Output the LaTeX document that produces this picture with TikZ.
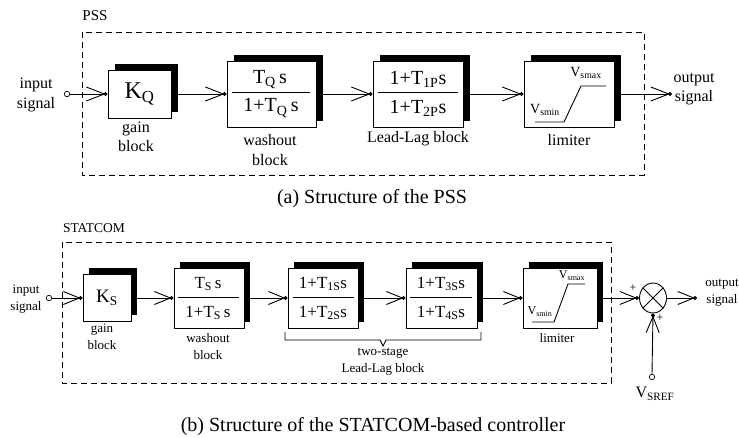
\documentclass[tikz,border=0pt]{standalone}
\usepackage{fontspec}
\setmainfont{Liberation Serif}
\usetikzlibrary{arrows.meta,shadows,shapes.geometric}
\begin{document}
\begin{tikzpicture}[x=1pt,y=-1pt,
  ln/.style={line width=0.9pt},
  arrA/.style={ln,-{Straight Barb[length=18pt,width=14pt,sep=-2pt]Circle[length=4pt]}},
  arrB/.style={ln,-{Straight Barb[length=16pt,width=13pt,sep=-2pt]Circle[length=4pt]}},
  blkA/.style={draw,fill=white,line width=0.9pt,inner sep=0pt,
     general shadow={fill=black,shadow xshift=7pt,shadow yshift=6pt}},
  blkB/.style={draw,fill=white,line width=0.9pt,inner sep=0pt,
     general shadow={fill=black,shadow xshift=6pt,shadow yshift=6pt}},
  circ/.style={draw,fill=white,circle,line width=0.7pt,inner sep=0pt,minimum size=5.5pt},
  dashframe/.style={line width=0.9pt,dash pattern=on 6pt off 4pt},
  t16/.style={font=\fontsize{16}{19.5}\selectfont,align=center,inner sep=0pt},
  t13/.style={font=\fontsize{13}{17}\selectfont,align=center,inner sep=0pt},
  f20/.style={font=\fontsize{20}{24}\selectfont,inner sep=0pt},
  f17/.style={font=\fontsize{17}{20}\selectfont,inner sep=0pt},
  captxt/.style={font=\fontsize{20}{24}\selectfont,inner sep=0pt},
]
\useasboundingbox (0,0) rectangle (739,438);

% ---------------- PSS ----------------
\node[font=\fontsize{15}{18}\selectfont,inner sep=0pt] (pssT) at (95,16) {PSS};
\draw[dashframe] (82,32) rectangle (644,175);

\node[t16] (inQl) at (36,95) {input\\signal};
\node[circ] (cinQ) at (67,94) {};

\node[blkA,minimum width=63pt,minimum height=48pt,font=\fontsize{24}{28}\selectfont] (gainQ) at (139.5,94) {K\textsubscript{Q}};
\node[t16] (gainQl) at (136,137) {gain\\block};

\node[blkA,minimum width=89pt,minimum height=66pt] (washQ) at (271.5,94) {};
\node[f20] (washQn) at (270,80) {T\textsubscript{Q}\,s};
\node[f20] (washQd) at (271,108) {1+T\textsubscript{Q}\,s};
\draw[ln] (232,92) -- (310,92);
\node[t16] (washQl) at (270,150) {washout\\block};

\node[blkA,minimum width=90pt,minimum height=66pt] (llQ) at (418,94) {};
\node[f20] (llQn) at (418,79) {1+T\textsubscript{1P}s};
\node[f20] (llQd) at (418,108) {1+T\textsubscript{2P}s};
\draw[ln] (378,92) -- (458,92);
\node[t16] (llQl) at (418,139) {Lead-Lag block};

\node[blkA,minimum width=90pt,minimum height=66pt] (limQ) at (569,94) {};
\draw[ln] (535,122) -- (564,122) -- (581,86) -- (606,86);
\node[font=\fontsize{14}{16}\selectfont,inner sep=0pt] (vmaxQ) at (586,73) {V\textsubscript{smax}};
\node[font=\fontsize{14}{16}\selectfont,inner sep=0pt] (vminQ) at (545,110) {V\textsubscript{smin}};
\node[t16] (limQl) at (569,140) {limiter};

\coordinate (outQ) at (672,94);
\node[t16] (outQl) at (694,89) {output\\signal};

\draw[arrA] (cinQ.east) -- (gainQ.west);
\draw[arrA] (gainQ.east) -- (washQ.west);
\draw[arrA] (washQ.east) -- (llQ.west);
\draw[arrA] (llQ.east) -- (limQ.west);
\draw[arrA] (limQ.east) -- (outQ);

\node[captxt] (capA) at (372,199) {(a) Structure of the PSS};

% ---------------- STATCOM ----------------
\node[font=\fontsize{13.5}{16}\selectfont,inner sep=0pt] (stT) at (94,228) {STATCOM};
\draw[dashframe] (62,242) rectangle (611,383);

\node[t13] (inSl) at (26,299) {input\\signal};
\node[circ] (cinS) at (49,298) {};

\node[blkB,minimum width=48pt,minimum height=47pt,font=\fontsize{19}{22}\selectfont] (gainS) at (107,298) {K\textsubscript{S}};
\node[t13] (gainSl) at (102,337) {gain\\block};

\node[blkB,minimum width=70pt,minimum height=60pt] (washS) at (209,298) {};
\node[f17] (washSn) at (208,284) {T\textsubscript{S}\,s};
\node[f17] (washSd) at (208,313) {1+T\textsubscript{S}\,s};
\draw[ln] (178,297) -- (239,297);
\node[t13] (washSl) at (208,347) {washout\\block};

\node[blkB,minimum width=70pt,minimum height=60pt] (ll1S) at (323,298) {};
\node[f17] (ll1Sn) at (323,284) {1+T\textsubscript{1S}s};
\node[f17] (ll1Sd) at (323,313) {1+T\textsubscript{2S}s};
\draw[ln] (293,297) -- (354,297);

\node[blkB,minimum width=71pt,minimum height=60pt] (ll2S) at (441.5,298) {};
\node[f17] (ll2Sn) at (441,284) {1+T\textsubscript{3S}s};
\node[f17] (ll2Sd) at (441,313) {1+T\textsubscript{4S}s};
\draw[ln] (410,297) -- (472,297);

\draw[ln] (285,332) -- (285,340) -- (380,340) -- (383,346) -- (386,340) -- (481,340) -- (481,332);
\node[t13] (llSl) at (383,362) {two-stage\\Lead-Lag block};

\node[blkB,minimum width=74pt,minimum height=60pt] (limS) at (560,298) {};
\draw[ln] (532,322) -- (554,322) -- (568,284) -- (585,284);
\node[font=\fontsize{12}{14}\selectfont,inner sep=0pt] (vmaxS) at (572,276) {V\textsubscript{smax}};
\node[font=\fontsize{12}{14}\selectfont,inner sep=0pt] (vminS) at (540,312) {V\textsubscript{smin}};
\node[t13] (limSl) at (557,338) {limiter};

\node[draw,ellipse,line width=0.9pt,minimum width=27pt,minimum height=30pt,inner sep=0pt] (sum) at (653,298) {};
\draw[ln] (sum.45) -- (sum.225);
\draw[ln] (sum.135) -- (sum.315);
\node[font=\fontsize{12}{14}\selectfont,inner sep=0pt] (plus1) at (633,288) {+};
\node[font=\fontsize{12}{14}\selectfont,inner sep=0pt] (plus2) at (660,318) {+};

\node[circ] (cvs) at (652,377) {};
\node[font=\fontsize{16}{19}\selectfont,inner sep=0pt] (vsl) at (655,394) {V\textsubscript{SREF}};

\coordinate (outS) at (697,298);
\node[t13] (outSl) at (722,293) {output\\signal};

\draw[arrB] (cinS.east) -- (gainS.west);
\draw[arrB] (gainS.east) -- (washS.west);
\draw[arrB] (washS.east) -- (ll1S.west);
\draw[arrB] (ll1S.east) -- (ll2S.west);
\draw[arrB] (ll2S.east) -- (limS.west);
\draw[arrB] (limS.east) -- (sum.west);
\draw[arrB] (sum.east) -- (outS);
\draw[arrB] (cvs.north) -- (sum.south);

\node[captxt] (capB) at (373,427) {(b) Structure of the STATCOM-based controller};
\end{tikzpicture}
\end{document}
